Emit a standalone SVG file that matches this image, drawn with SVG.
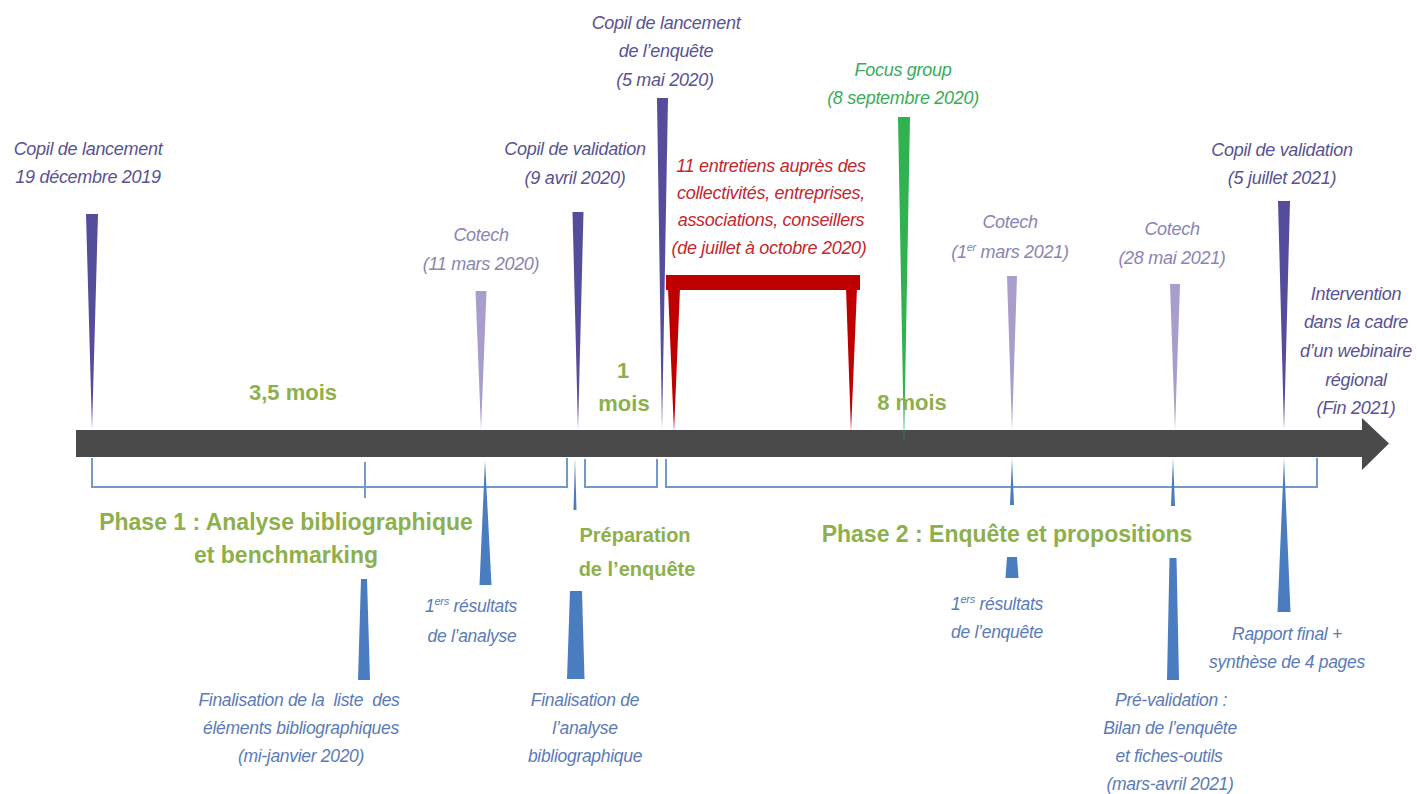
<svg xmlns="http://www.w3.org/2000/svg" width="1417" height="794" viewBox="0 0 1417 794">
<style>
text{font-family:"Liberation Sans",Arial,sans-serif;text-anchor:middle;white-space:pre}
.it{font-style:italic;font-size:18px;letter-spacing:-0.3px}
.lo{font-style:italic;font-size:17.5px;letter-spacing:-0.3px;fill:#5a7bb8}
.copil{fill:#585392}
.cot{fill:#8a84b4}
.red{fill:#c3272e}
.grn{fill:#38ad5a}
.bold{font-weight:bold;fill:#8db04c}
.sdark{fill:#564c9c}
.slight{fill:#a99dcc}
.sblue{fill:#4a7cc0}
.br{fill:none;stroke:#7399cc;stroke-width:2}
</style>
<rect width="1417" height="794" fill="#ffffff"/>

<g id="connectors">
  <g id="timeline">
    <rect x="76" y="430" width="1288" height="27" fill="#4a4a4a"/>
    <polygon points="1362,418 1389,443.5 1362,470" fill="#4a4a4a"/>
  </g>
  <polyline class="br" points="92,458 92,487 567,487 567,458"/>
  <line class="br" x1="365" y1="462" x2="365" y2="498"/>
  <polyline class="br" points="585,459 585,487 657,487 657,459"/>
  <polyline class="br" points="666,459 666,487 1317,487 1317,458"/>
  <polygon class="sblue" points="575,458 573.5,510 576.5,510"/>
  <polygon class="sblue" points="1012,458 1010,505 1014,505"/>
  <polygon class="sblue" points="1173,458 1171,506 1175,506"/>
</g>

<g id="copil-lancement">
  <polygon class="sdark" points="86,214 98,214 92,430"/>
  <text class="it copil" x="88" y="155">Copil de lancement</text>
  <text class="it copil" x="88" y="183">19 décembre 2019</text>
</g>

<g id="cotech-mars-2020">
  <polygon class="slight" points="475.5,291 486.5,291 481,430"/>
  <text class="it cot" x="481" y="241">Cotech</text>
  <text class="it cot" x="481" y="270">(11 mars 2020)</text>
</g>

<g id="copil-validation-2020">
  <polygon class="sdark" points="572.5,212 583.5,212 578,430"/>
  <text class="it copil" x="575" y="155">Copil de validation</text>
  <text class="it copil" x="575" y="184">(9 avril 2020)</text>
</g>

<g id="copil-lancement-enquete">
  <polygon class="sdark" points="657,98 668,98 662,430"/>
  <text class="it copil" x="666" y="29">Copil de lancement</text>
  <text class="it copil" x="666" y="57">de l’enquête</text>
  <text class="it copil" x="665" y="86">(5 mai 2020)</text>
</g>

<g id="entretiens">
  <rect x="666" y="275" width="194" height="15" fill="#c00000"/>
  <polygon points="668,288 680,288 674,432" fill="#c00000"/>
  <polygon points="846,288 857,288 851,432" fill="#c00000"/>
  <text class="it red" x="771" y="172">11 entretiens auprès des</text>
  <text class="it red" x="771" y="199">collectivités, entreprises,</text>
  <text class="it red" x="771" y="226">associations, conseillers</text>
  <text class="it red" x="769" y="254">(de juillet à octobre 2020)</text>
</g>

<g id="focus-group">
  <polygon points="898,117 910,117 904,446" fill="#2fb24f"/>
  <text class="it grn" x="903" y="76">Focus group</text>
  <text class="it grn" x="903" y="104">(8 septembre 2020)</text>
</g>

<g id="cotech-mars-2021">
  <polygon class="slight" points="1007,276 1017,276 1012,430"/>
  <text class="it cot" x="1010" y="228">Cotech</text>
  <text class="it cot" x="1010" y="258">(1<tspan font-size="11" dy="-7">er</tspan><tspan dy="7"> mars 2021)</tspan></text>
</g>

<g id="cotech-mai-2021">
  <polygon class="slight" points="1170,284 1180,284 1175,430"/>
  <text class="it cot" x="1172" y="235">Cotech</text>
  <text class="it cot" x="1172" y="264">(28 mai 2021)</text>
</g>

<g id="copil-validation-2021">
  <polygon class="sdark" points="1278,201 1290,201 1284,430"/>
  <text class="it copil" x="1282" y="156">Copil de validation</text>
  <text class="it copil" x="1282" y="184">(5 juillet 2021)</text>
</g>

<g id="intervention">
  <text class="it copil" x="1356" y="300">Intervention</text>
  <text class="it copil" x="1356" y="328">dans la cadre</text>
  <text class="it copil" x="1356" y="357">d’un webinaire</text>
  <text class="it copil" x="1356" y="386">régional</text>
  <text class="it copil" x="1356" y="414">(Fin 2021)</text>
</g>

<g id="durations">
  <text class="bold" x="293" y="400" font-size="22">3,5 mois</text>
  <text class="bold" x="623" y="378" font-size="22">1</text>
  <text class="bold" x="624" y="411" font-size="22">mois</text>
  <text class="bold" x="912" y="410" font-size="22">8 mois</text>
</g>

<g id="phase1">
  <text class="bold" x="286" y="530" font-size="23">Phase 1 : Analyse bibliographique</text>
  <text class="bold" x="286" y="563" font-size="23">et benchmarking</text>
</g>

<g id="preparation">
  <text class="bold" x="635" y="542" font-size="20">Préparation</text>
  <text class="bold" x="637" y="576" font-size="20">de l’enquête</text>
</g>

<g id="phase2">
  <text class="bold" x="1007" y="542" font-size="23">Phase 2 : Enquête et propositions</text>
</g>

<g id="finalisation-liste">
  <polygon class="sblue" points="361,579 367,579 370,680 358,680"/>
  <text class="lo" x="299" y="706">Finalisation de la  liste  des</text>
  <text class="lo" x="301" y="734">éléments bibliographiques</text>
  <text class="lo" x="301" y="762">(mi-janvier 2020)</text>
</g>

<g id="resultats-analyse">
  <polygon class="sblue" points="485,460 491.5,585 479.5,585"/>
  <text class="lo" x="471" y="612">1<tspan font-size="11" dy="-7">ers</tspan><tspan dy="7"> résultats</tspan></text>
  <text class="lo" x="472" y="642">de l’analyse</text>
</g>

<g id="finalisation-analyse">
  <polygon class="sblue" points="570,591 582,591 584.5,679 567,679"/>
  <text class="lo" x="585" y="706">Finalisation de</text>
  <text class="lo" x="585" y="734">l’analyse</text>
  <text class="lo" x="585" y="762">bibliographique</text>
</g>

<g id="resultats-enquete">
  <polygon class="sblue" points="1007,557 1017,557 1018.5,578 1005.5,578"/>
  <text class="lo" x="997" y="610">1<tspan font-size="11" dy="-7">ers</tspan><tspan dy="7"> résultats</tspan></text>
  <text class="lo" x="997" y="638">de l’enquête</text>
</g>

<g id="pre-validation">
  <polygon class="sblue" points="1169.5,558 1176.5,558 1179,680 1167,680"/>
  <text class="lo" x="1171" y="706">Pré-validation :</text>
  <text class="lo" x="1170" y="734">Bilan de l’enquête</text>
  <text class="lo" x="1169" y="762">et fiches-outils</text>
  <text class="lo" x="1170" y="790">(mars-avril 2021)</text>
</g>

<g id="rapport-final">
  <polygon class="sblue" points="1284,458 1290.5,612 1277.5,612"/>
  <text class="lo" x="1287" y="640">Rapport final +</text>
  <text class="lo" x="1287" y="668">synthèse de 4 pages</text>
</g>
</svg>
